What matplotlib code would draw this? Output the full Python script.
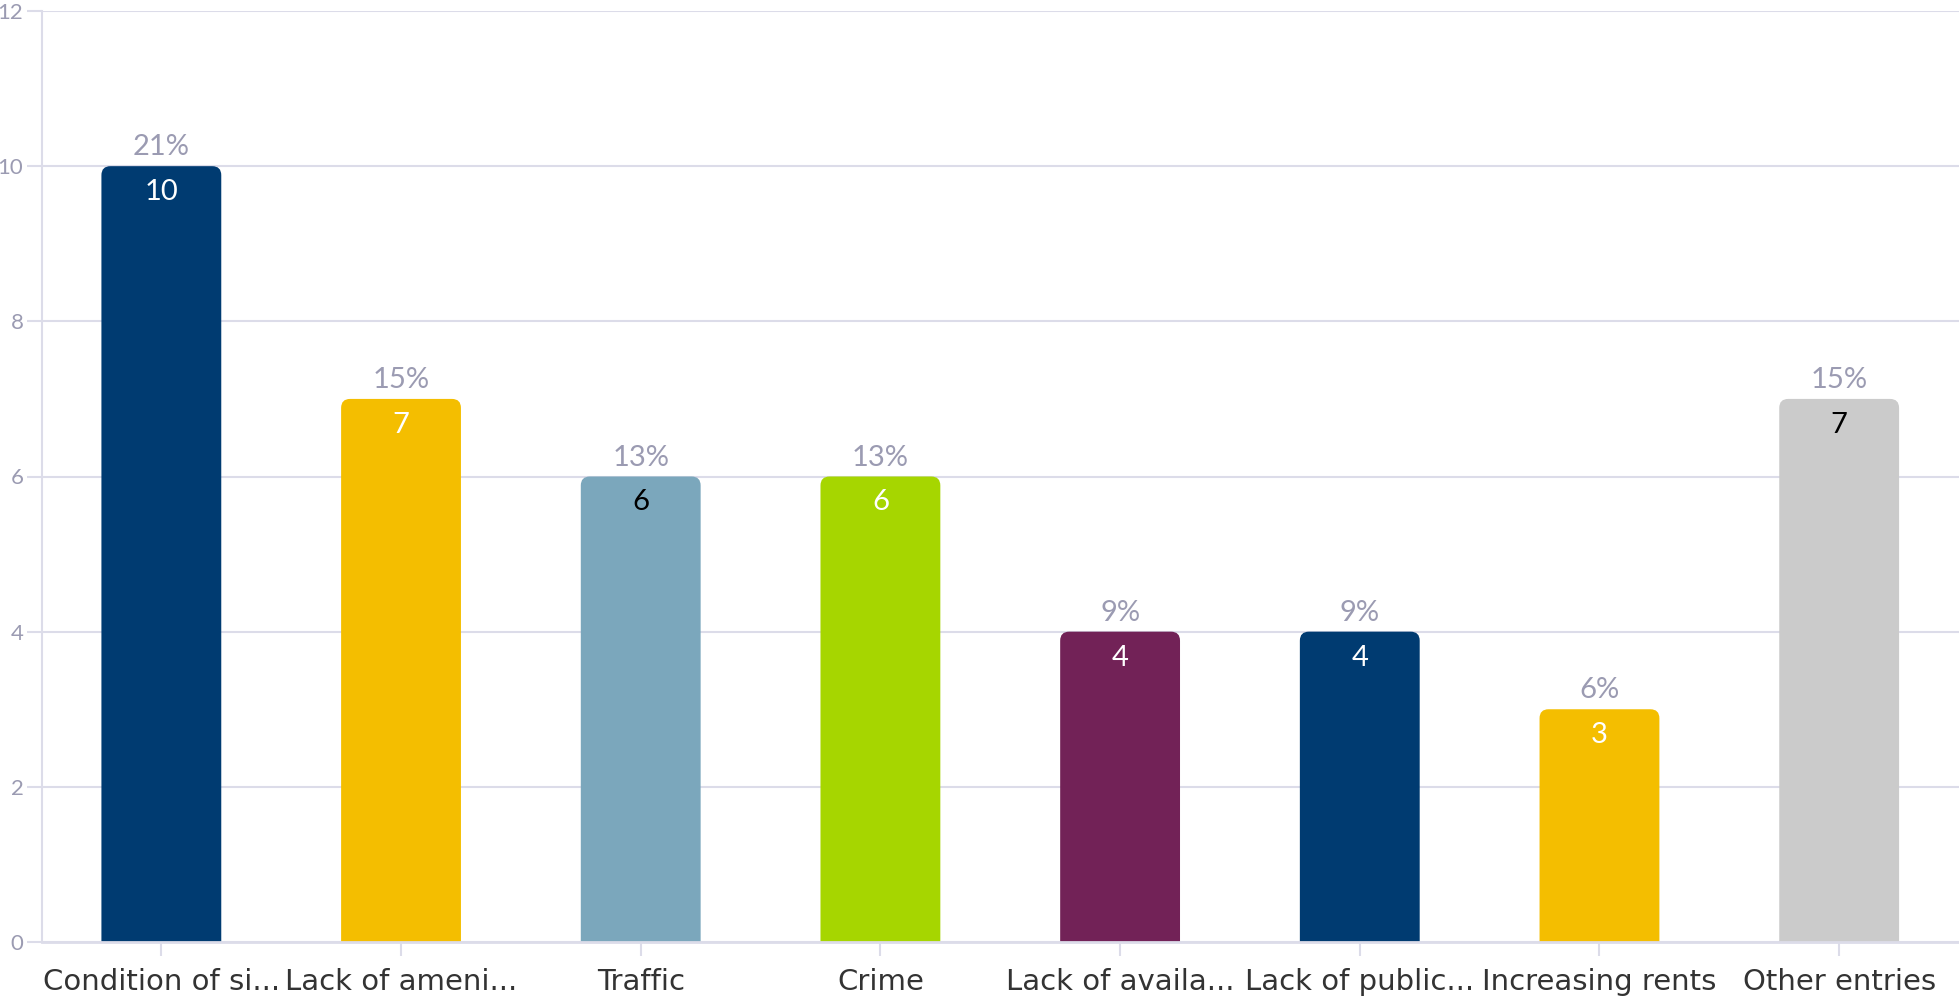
import matplotlib
matplotlib.use("Agg")
import matplotlib.pyplot as plt
from matplotlib.patches import FancyBboxPatch

categories = ["Condition of si...", "Lack of ameni...", "Traffic", "Crime",
              "Lack of availa...", "Lack of public...", "Increasing rents", "Other entries"]
counts = [10, 7, 6, 6, 4, 4, 3, 7]
bar_colors = ["#003B71", "#F4BE00", "#7BA7BC", "#A6D600",
              "#722257", "#003B71", "#F4BE00", "#CBCBCB"]
value_text_colors = ["white", "white", "black", "white",
                     "white", "white", "white", "black"]
y_ticks = [0, 2, 4, 6, 8, 10, 12]

total = sum(counts)
percents = [round(100 * c / total) for c in counts]

GRID = "#DCDCE9"
MUTED = "#9B9BB2"

fig = plt.figure(figsize=(19.59, 9.99), dpi=100)
ax = fig.add_axes([41.5 / 1959, 57 / 999, 1 - 41.5 / 1959, (942 - 11) / 999])

x = list(range(len(categories)))
bars = ax.bar(x, counts, width=0.5, color=bar_colors, zorder=3)

ax.set_xlim(-0.5, 7.5)
ax.set_ylim(0, 12)

# replace the plain bars with versions that have softly rounded top corners
px_per_x = 240.0
px_per_y = 931.0 / 12
radius_px = 9
r = radius_px / px_per_x
for b, col in zip(bars, bar_colors):
    x0, w, h = b.get_x(), b.get_width(), b.get_height()
    b.set_visible(False)
    patch = FancyBboxPatch((x0, -1), w, h + 1,
                           boxstyle=f"round,pad=0,rounding_size={r}",
                           mutation_aspect=px_per_x / px_per_y,
                           facecolor=col, edgecolor="none", zorder=3)
    ax.add_patch(patch)

# labels: share above each bar, count just inside the top
for xi, c, p, tc in zip(x, counts, percents, value_text_colors):
    ax.annotate(f"{p}%", (xi, c), xytext=(0, 19), textcoords="offset pixels",
                ha="center", va="center", fontsize=21, color=MUTED,
                family="Lato", zorder=4)
    ax.annotate(f"{c}", (xi, c), xytext=(0, -26), textcoords="offset pixels",
                ha="center", va="center", fontsize=21, color=tc,
                family="Lato", zorder=4)

ax.set_yticks(y_ticks)
ax.set_yticklabels([str(t) for t in y_ticks], family="Lato", fontsize=16, color=MUTED)
ax.set_xticks(x)
ax.set_xticklabels(categories, family="Liberation Sans Narrow", fontsize=21, color="#333333")

ax.grid(axis="y", color=GRID, linewidth=1.5, zorder=0)
ax.tick_params(axis="y", length=11, width=1.5, color=GRID, pad=2)
ax.tick_params(axis="x", length=10, width=1.5, color=GRID, pad=9)

for side in ["top", "right"]:
    ax.spines[side].set_visible(False)
ax.spines["left"].set_color(GRID)
ax.spines["left"].set_linewidth(1.5)
ax.spines["bottom"].set_color(GRID)
ax.spines["bottom"].set_linewidth(2)
ax.spines["bottom"].set_zorder(4)

fig.savefig("out.png", dpi=100, facecolor="white")
